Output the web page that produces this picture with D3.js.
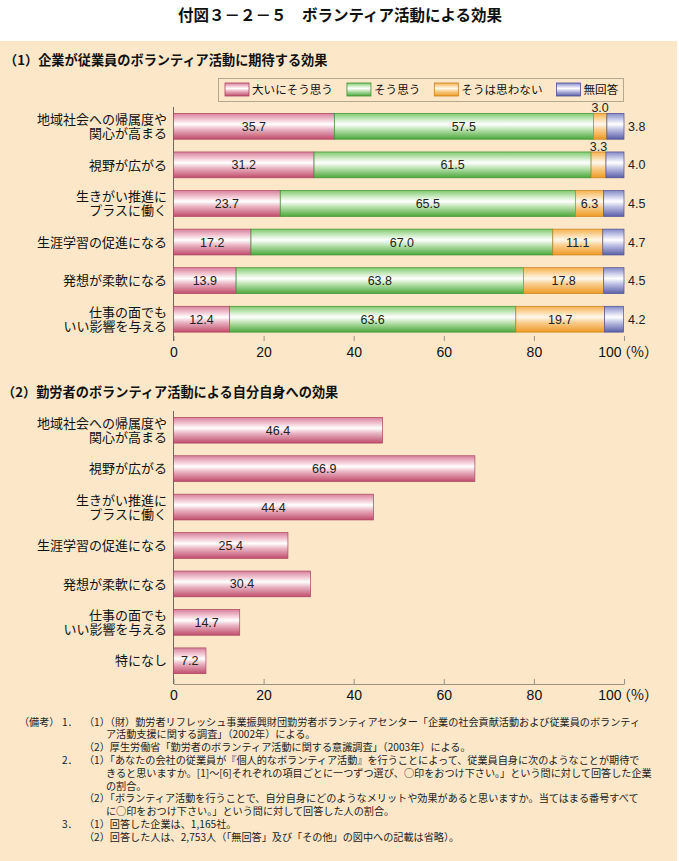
<!DOCTYPE html>
<html><head><meta charset="utf-8">
<script src="https://cdn.jsdelivr.net/npm/d3@7"></script>
<style>body{margin:0;background:#fff;} svg{display:block}</style>
</head><body>
<script>
// ---------- data ----------
const mainTitle = "付図３－２－５　ボランティア活動による効果";
const title1 = "（1）企業が従業員のボランティア活動に期待する効果";
const title2 = "（2）勤労者のボランティア活動による自分自身への効果";
const categories1 = ["地域社会への帰属度や\n関心が高まる", "視野が広がる", "生きがい推進に\nプラスに働く", "生涯学習の促進になる", "発想が柔軟になる", "仕事の面でも\nいい影響を与える"];
const seriesNames = ["大いにそう思う", "そう思う", "そうは思わない", "無回答"];
const strongly = [35.7, 31.2, 23.7, 17.2, 13.9, 12.4];
const agree    = [57.5, 61.5, 65.5, 67.0, 63.8, 63.6];
const disagree = [3.0, 3.3, 6.3, 11.1, 17.8, 19.7];
const noAnswer = [3.8, 4.0, 4.5, 4.7, 4.5, 4.2];
const categories2 = ["地域社会への帰属度や\n関心が高まる", "視野が広がる", "生きがい推進に\nプラスに働く", "生涯学習の促進になる", "発想が柔軟になる", "仕事の面でも\nいい影響を与える", "特になし"];
const values2 = [46.4, 66.9, 44.4, 25.4, 30.4, 14.7, 7.2];
const xTicks = [0, 20, 40, 60, 80, 100];
const notes = [
  ["（備考）", "1．", "（1）（財）勤労者リフレッシュ事業振興財団勤労者ボランティアセンター「企業の社会貢献活動および従業員のボランティ"],
  ["", "", "", "ア活動支援に関する調査」（2002年）による。"],
  ["", "", "（2）厚生労働省「勤労者のボランティア活動に関する意識調査」（2003年）による。"],
  ["", "2．", "（1）「あなたの会社の従業員が『個人的なボランティア活動』を行うことによって、従業員自身に次のようなことが期待で"],
  ["", "", "", "きると思いますか。[1]～[6]それぞれの項目ごとに一つずつ選び、○印をおつけ下さい。」という問に対して回答した企業"],
  ["", "", "", "の割合。"],
  ["", "", "（2）「ボランティア活動を行うことで、自分自身にどのようなメリットや効果があると思いますか。当てはまる番号すべて"],
  ["", "", "", "に○印をおつけ下さい。」という問に対して回答した人の割合。"],
  ["", "3．", "（1）回答した企業は、1,165社。"],
  ["", "", "（2）回答した人は、2,753人（「無回答」及び「その他」の図中への記載は省略）。"]
];

// ---------- setup ----------
const W = 679, H = 861;
const JP = "'Noto Sans CJK JP','Noto Sans',sans-serif";
const NUM = "'Liberation Sans',Arial,sans-serif";
const svg = d3.select("body").append("svg").attr("width", W).attr("height", H);

const palette = [
  {id: "gPink",   stops: ["#d7809a", "#f6d3dd", "#ffffff", "#eab4c3", "#c04d6c"], edge: "#a9445f"},
  {id: "gGreen",  stops: ["#7fca6e", "#d9f0d2", "#ffffff", "#bfe4b4", "#4ba83b"], edge: "#3f8f32"},
  {id: "gOrange", stops: ["#f5b04c", "#fce2b8", "#fff8ec", "#f9cf92", "#ee9a23"], edge: "#c98020"},
  {id: "gBlue",   stops: ["#8488c6", "#d9daf0", "#ffffff", "#c0c2e4", "#5a5fa8"], edge: "#4d5190"}
];
const defs = svg.append("defs");
palette.forEach(p => {
  const g = defs.append("linearGradient").attr("id", p.id).attr("x1", 0).attr("y1", 0).attr("x2", 0).attr("y2", 1);
  const offs = [0, 0.28, 0.42, 0.62, 1];
  p.stops.forEach((c, i) => g.append("stop").attr("offset", offs[i]).attr("stop-color", c));
});

// background panel
svg.append("rect").attr("x", 0).attr("y", 41).attr("width", 677).attr("height", H - 41).attr("fill", "#fce8c9");

// titles
svg.append("text").attr("x", 340).attr("y", 21).attr("text-anchor", "middle")
  .attr("font-family", JP).attr("font-weight", "bold").attr("font-size", 15.5).attr("fill", "#111").text(mainTitle);
svg.append("text").attr("x", 4).attr("y", 65).attr("font-family", JP).attr("font-weight", "bold")
  .attr("font-size", 13.2).attr("fill", "#111").text(title1);
svg.append("text").attr("x", 2).attr("y", 397).attr("font-family", JP).attr("font-weight", "bold")
  .attr("font-size", 13.2).attr("fill", "#111").text(title2);

const x = d3.scaleLinear().domain([0, 100]).range([173.5, 624]);

// ---------- legend ----------
const lg = svg.append("g");
lg.append("rect").attr("x", 218.5).attr("y", 78.5).attr("width", 405).attr("height", 23)
  .attr("fill", "#fce8c9").attr("stroke", "#b3a98f").attr("stroke-width", 1);
let lx = 225;
seriesNames.forEach((name, i) => {
  lg.append("rect").attr("x", lx).attr("y", 83).attr("width", 24).attr("height", 13)
    .attr("fill", `url(#${palette[i].id})`).attr("stroke", palette[i].edge).attr("stroke-width", 0.8);
  const t = lg.append("text").attr("x", lx + 27).attr("y", 90).attr("dy", "0.36em")
    .attr("font-family", JP).attr("font-size", 11.6).attr("fill", "#111").text(name);
  lx = lx + 27 + t.node().getComputedTextLength() + 14;
});

// ---------- helpers ----------
function categoryLabels(g, scale, cats) {
  cats.forEach(c => {
    const lines = c.split("\n");
    const cy = scale(c) + scale.bandwidth() / 2;
    const t = g.append("text").attr("text-anchor", "end")
      .attr("font-family", JP).attr("font-size", 13).attr("fill", "#111");
    lines.forEach((ln, j) => {
      t.append("tspan").attr("x", 167).attr("y", cy + (j - (lines.length - 1) / 2) * 14.5)
        .attr("dy", "0.36em").text(ln);
    });
  });
}
function drawAxis(yAxis, yTop, showDomain) {
  const ax = svg.append("g").attr("transform", `translate(0,${yAxis})`)
    .call(d3.axisBottom(x).tickValues(xTicks).tickSizeInner(-5).tickSizeOuter(0).tickPadding(6));
  ax.select(".domain").attr("stroke", showDomain ? "#9a9284" : "none").attr("stroke-width", 1);
  ax.selectAll(".tick line").attr("stroke", "#9a9284");
  ax.selectAll(".tick text").attr("font-family", NUM).attr("font-size", 14).attr("fill", "#111");
  ax.selectAll(".tick").filter(d => d === 100).select("text").attr("text-anchor", "end").attr("x", -3);
  ax.append("text").attr("x", x(100) - 7).attr("y", 6).attr("dy", "0.71em").attr("text-anchor", "start")
    .attr("font-family", JP).attr("font-size", 14).attr("fill", "#111").text("（%）");
  svg.append("line").attr("x1", x(0)).attr("x2", x(0)).attr("y1", yTop).attr("y2", yAxis)
    .attr("stroke", "#6e675c").attr("stroke-width", 1);
}

// ---------- chart 1 ----------
const y1 = d3.scaleBand().domain(categories1).range([107, 338.5]).paddingInner(0.33).paddingOuter(0.165);
const rows1 = categories1.map((c, i) => ({cat: c, vals: [strongly[i], agree[i], disagree[i], noAnswer[i]]}));
const stack = d3.stack().keys([0, 1, 2, 3]).value((d, k) => d.vals[k]);
const layers = stack(rows1);
drawAxis(341, 107, false);
const g1 = svg.append("g");
layers.forEach((layer, k) => {
  g1.selectAll(null).data(layer).join("rect")
    .attr("x", d => x(d[0])).attr("width", d => x(d[1]) - x(d[0]))
    .attr("y", d => y1(d.data.cat)).attr("height", y1.bandwidth())
    .attr("fill", `url(#${palette[k].id})`).attr("stroke", palette[k].edge).attr("stroke-width", 0.7);
});
layers.forEach((layer, k) => {
  g1.selectAll(null).data(layer).join("text")
    .attr("x", d => k === 3 ? x(100) + 4 : x((d[0] + d[1]) / 2))
    .attr("y", d => {
      const v = d[1] - d[0];
      if (k < 3 && v < 5) return y1(d.data.cat) - 1;
      return y1(d.data.cat) + y1.bandwidth() / 2;
    })
    .attr("dy", d => (k < 3 && d[1] - d[0] < 5) ? "0" : "0.36em")
    .attr("text-anchor", k === 3 ? "start" : "middle")
    .attr("font-family", NUM).attr("font-size", 12.5).attr("fill", "#222")
    .text(d => (d[1] - d[0]).toFixed(1));
});
categoryLabels(svg.append("g"), y1, categories1);

// ---------- chart 2 ----------
const y2 = d3.scaleBand().domain(categories2).range([411, 680]).paddingInner(0.33).paddingOuter(0.165);
drawAxis(684, 411, true);
const g2 = svg.append("g");
g2.selectAll("rect").data(values2).join("rect")
  .attr("x", x(0)).attr("width", d => x(d) - x(0))
  .attr("y", (d, i) => y2(categories2[i])).attr("height", y2.bandwidth())
  .attr("fill", "url(#gPink)").attr("stroke", palette[0].edge).attr("stroke-width", 0.7);
g2.selectAll("text").data(values2).join("text")
  .attr("x", d => x(d / 2)).attr("y", (d, i) => y2(categories2[i]) + y2.bandwidth() / 2)
  .attr("dy", "0.36em").attr("text-anchor", "middle")
  .attr("font-family", NUM).attr("font-size", 12.5).attr("fill", "#222").text(d => d.toFixed(1));
categoryLabels(svg.append("g"), y2, categories2);

// ---------- notes ----------
const nt = svg.append("text").attr("font-family", JP).attr("font-size", 10.15).attr("fill", "#222");
const colX = [19, 62, 84, 106];
notes.forEach((row, i) => {
  const yy = 722 + i * 12.8;
  row.forEach((s, j) => {
    if (!s) return;
    nt.append("tspan").attr("x", colX[j]).attr("y", yy).attr("dy", "0.36em").text(s);
  });
});
</script>
</body></html>
